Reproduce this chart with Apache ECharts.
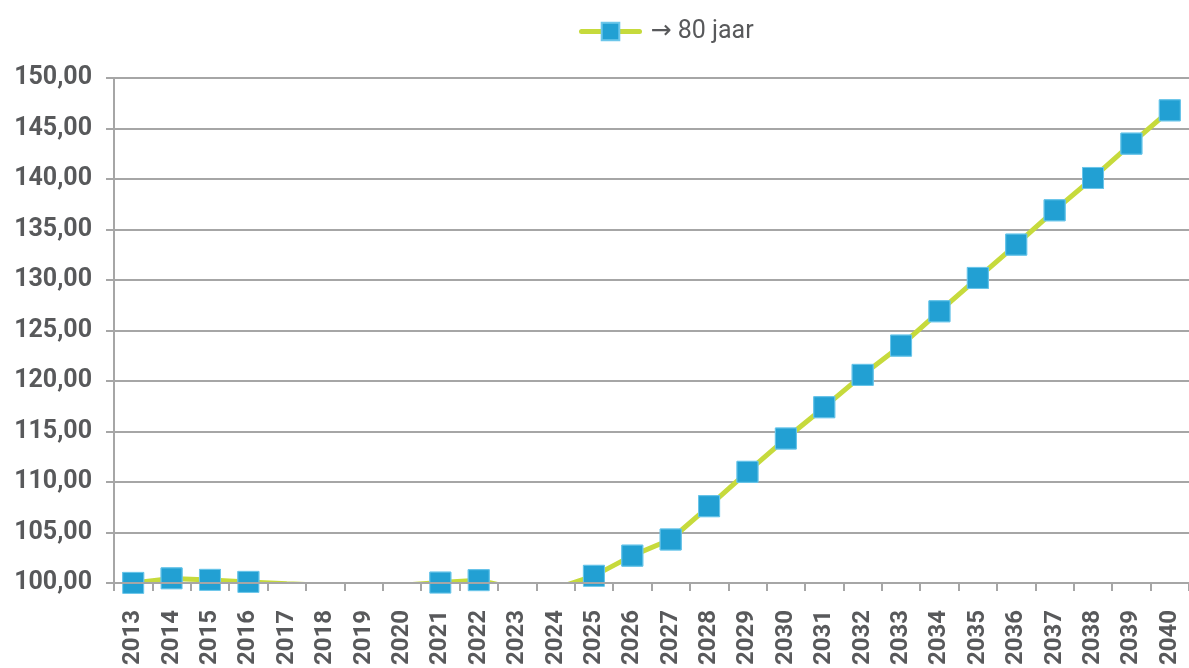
<!DOCTYPE html>
<html>
<head>
<meta charset="utf-8">
<script src="https://cdn.jsdelivr.net/npm/echarts@6/dist/echarts.min.js"></script>
<style>
  html, body { margin: 0; padding: 0; background: #fff; }
  #chart { width: 1189px; height: 668px; }
</style>
</head>
<body>
<div id="chart"></div>
<script>
// data
var years = ['2013', '2014', '2015', '2016', '2017', '2018', '2019', '2020', '2021', '2022',
  '2023', '2024', '2025', '2026', '2027', '2028', '2029', '2030', '2031', '2032',
  '2033', '2034', '2035', '2036', '2037', '2038', '2039', '2040']
var values80 = [100.0, 100.45, 100.3, 100.1, 99.93, 99.78, 99.6, 99.77, 100.03, 100.27,
  99.4, 99.43, 100.7, 102.7, 104.3, 107.6, 111.0, 114.3, 117.4, 120.6,
  123.5, 126.9, 130.2, 133.5, 136.9, 140.1, 143.5, 146.8]
var seriesName = '\u2192 80 jaar'
var yMin = 100
var yMax = 150
var yStep = 5

var gray = '#a6a6a6'
var textColor = '#58595b'
var lineColor = '#c6da3c'
var markColor = '#22a0d3'
var font = 'Roboto, "DejaVu Sans", sans-serif'

function markSize(v) { return v < yMin ? 0 : 21 }

var option = {
  animation: false,
  legend: {
    top: 14,
    left: 574,
    itemWidth: 58,
    itemHeight: 22,
    lineStyle: { width: 5, cap: 'round' },
    textStyle: { fontSize: 25, color: textColor, fontFamily: font, padding: [0, 0, 0, 6] },
    data: [seriesName]
  },
  grid: { left: 114, right: -6, top: 78, bottom: 85, containLabel: false },
  xAxis: {
    type: 'category',
    data: years,
    boundaryGap: true,
    z: 5,
    axisLine: { lineStyle: { color: gray, width: 2 } },
    axisTick: { show: true, length: 8, lineStyle: { color: gray, width: 2 } },
    axisLabel: {
      interval: 0,
      rotate: 90,
      margin: 27,
      fontSize: 24,
      fontWeight: 'bold',
      color: textColor,
      fontFamily: font
    }
  },
  yAxis: {
    type: 'value',
    min: yMin,
    max: yMax,
    interval: yStep,
    axisLine: { show: true, lineStyle: { color: gray, width: 2 } },
    axisTick: { show: true, length: 8, lineStyle: { color: gray, width: 2 } },
    splitLine: { lineStyle: { color: gray, width: 2 } },
    axisLabel: {
      margin: 22,
      fontSize: 25,
      fontWeight: 'bold',
      color: textColor,
      fontFamily: font,
      formatter: function (v) { return v.toFixed(2).replace('.', ',') }
    }
  },
  series: [{
    // line (with markers for the legend icon)
    name: seriesName,
    type: 'line',
    data: values80,
    z: 2,
    clip: false,
    symbol: 'rect',
    symbolSize: markSize,
    itemStyle: { color: markColor, borderColor: '#6cc6ea', borderWidth: 1 },
    lineStyle: { color: lineColor, width: 5 }
  }, {
    // markers again, above the mask under the axis
    name: seriesName,
    type: 'line',
    data: values80,
    z: 4,
    clip: false,
    symbol: 'rect',
    symbolSize: markSize,
    itemStyle: { color: markColor, borderColor: '#6cc6ea', borderWidth: 1 },
    lineStyle: { opacity: 0 }
  }]
}

var chart = echarts.init(document.getElementById('chart'))
chart.setOption(option, true)

// white mask below the x axis so the line is cut off at the axis like in the original
var axisY = chart.convertToPixel({ yAxisIndex: 0 }, yMin)
var x0 = chart.convertToPixel({ xAxisIndex: 0 }, years[0]) - 18
chart.setOption({
  graphic: [{
    type: 'rect',
    z: 3,
    shape: { x: x0, y: axisY + 1, width: 1189 - x0, height: 14 },
    style: { fill: '#fff' },
    silent: true
  }]
})
</script>
</body>
</html>
